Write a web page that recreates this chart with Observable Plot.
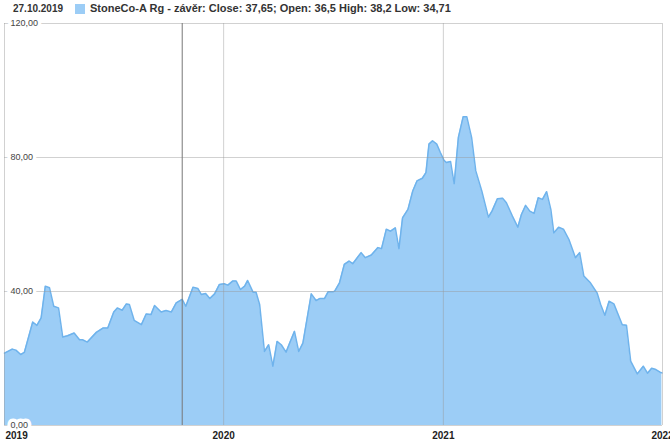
<!DOCTYPE html>
<html><head><meta charset="utf-8">
<script src="https://cdn.jsdelivr.net/npm/d3@7"></script>
<script src="https://cdn.jsdelivr.net/npm/@observablehq/plot@0.6"></script>
<style>
body{margin:0;background:#fff;font-family:Arial,"Liberation Sans",sans-serif;}
#legend{height:18px;position:relative;color:#333;}
#legend .date{position:absolute;left:13px;top:3px;font-size:10px;font-weight:bold;line-height:12px;}
#legend .sw{position:absolute;left:75px;top:4px;width:10px;height:10px;background:#9ccdf6;}
#legend .txt{position:absolute;left:90px;top:2px;font-size:11px;font-weight:bold;line-height:13px;}
</style></head><body>
<div id="legend"><span class="date">27.10.2019</span><span class="sw"></span><span class="txt">StoneCo-A Rg - závěr: Close: 37,65; Open: 36,5 High: 38,2 Low: 34,71</span></div>
<div id="chart"></div>
<script>
const dates = [
"2019-01-01","2019-01-14","2019-01-20","2019-01-28","2019-02-03","2019-02-17","2019-02-24","2019-03-03","2019-03-10","2019-03-17",
"2019-03-24","2019-04-01","2019-04-08","2019-04-16","2019-04-27","2019-05-06","2019-05-11","2019-05-19","2019-06-03","2019-06-14",
"2019-06-22","2019-07-02","2019-07-08","2019-07-16","2019-07-23","2019-07-28","2019-08-05","2019-08-17","2019-08-25","2019-09-02",
"2019-09-08","2019-09-19","2019-09-27","2019-10-06","2019-10-14","2019-10-24","2019-10-30","2019-11-11","2019-11-19","2019-11-25",
"2019-12-02","2019-12-09","2019-12-17","2019-12-25","2020-01-02","2020-01-08","2020-01-16","2020-01-22","2020-01-29","2020-02-05",
"2020-02-10","2020-02-19","2020-02-24","2020-03-01","2020-03-09","2020-03-16","2020-03-23","2020-03-30","2020-04-06","2020-04-14",
"2020-04-20","2020-04-28","2020-05-05","2020-05-12","2020-05-26","2020-06-03","2020-06-09","2020-06-17","2020-06-23","2020-07-01",
"2020-07-04","2020-07-12","2020-07-20","2020-07-28","2020-08-03","2020-08-17","2020-08-24","2020-09-03","2020-09-14","2020-09-20",
"2020-09-28","2020-10-05","2020-10-13","2020-10-19","2020-10-25","2020-11-03","2020-11-11","2020-11-18","2020-11-27","2020-12-03",
"2020-12-08","2020-12-14","2020-12-21","2020-12-27","2021-01-02","2021-01-06","2021-01-13","2021-01-19","2021-01-26","2021-02-03",
"2021-02-09","2021-02-17","2021-02-24","2021-03-06","2021-03-17","2021-03-23","2021-04-01","2021-04-10","2021-04-16","2021-04-26",
"2021-05-05","2021-05-11","2021-05-18","2021-05-25","2021-06-01","2021-06-08","2021-06-15","2021-06-22","2021-06-29","2021-07-04",
"2021-07-12","2021-07-20","2021-07-29","2021-08-09","2021-08-16","2021-08-23","2021-09-03","2021-09-14","2021-09-20","2021-09-27",
"2021-10-04","2021-10-12","2021-10-26","2021-11-02","2021-11-09","2021-11-20","2021-11-30","2021-12-07","2021-12-14","2021-12-21",
"2021-12-28","2021-12-31"
];
const closes = [
21.6,22.8,22.5,21.2,21.8,30.9,29.9,32.1,41.6,41.1,
35.6,35.1,26.4,26.8,27.6,25.6,25.6,24.9,27.8,29.1,
29.1,33.9,35.1,34.4,36.3,36.1,31.4,30.1,33.3,33.1,
35.8,33.9,34.3,33.9,36.6,37.65,35.6,41.3,40.9,39.1,
39.4,37.9,39.3,42.1,42.3,41.9,43.1,43.1,40.6,41.6,
43.3,39.8,39.8,36.1,22.1,24.1,17.7,25.1,24.1,21.9,
24.6,28.1,22.1,24.6,39.3,37.3,37.9,37.9,39.9,39.9,
40.1,42.6,48.1,49.1,48.3,51.6,50.1,50.9,53.1,52.8,
58.6,58.0,59.0,52.8,62.0,64.5,70.0,73.0,73.8,75.5,
84.0,85.0,84.0,81.5,79.2,78.5,78.8,72.2,86.0,92.2,
92.2,86.0,76.0,70.0,62.2,64.0,67.7,67.8,66.5,62.5,
59.2,63.0,65.7,64.0,63.3,68.0,67.5,69.8,64.5,57.5,
59.2,58.6,55.6,50.1,51.6,44.6,42.6,39.6,36.1,32.9,
37.1,36.3,30.1,29.9,19.2,15.4,17.7,15.6,17.1,16.7,
15.9,15.7
];
const yTicks = [0, 40, 80, 120];
const yearDates = ["2019-01-01", "2020-01-01", "2021-01-01", "2022-01-01"];
const yearLabels = ["2019", "2020", "2021", "2022"];
const crosshairDate = "2019-10-24";

const parse = d3.utcParse("%Y-%m-%d");
const data = dates.map((d, i) => ({date: parse(d), close: closes[i]}));
const years = yearDates.map(parse);
const fmt = v => d3.format(".2f")(v).replace(".", ",");
const font = "Arial, 'Liberation Sans', sans-serif";

const chart = Plot.plot({
  width: 670,
  height: 427,
  marginTop: 5,
  marginBottom: 20,
  marginLeft: 4,
  marginRight: 8,
  style: {fontFamily: font, background: "white"},
  x: {type: "utc", domain: [years[0], years[3]], axis: null},
  y: {domain: [0, 120], axis: null},
  marks: [
    Plot.areaY(data, {x: "date", y: "close", fill: "#9ccdf6"}),
    Plot.lineY(data, {x: "date", y: "close", stroke: "#6fb3ec", strokeWidth: 1.5}),
    Plot.ruleX(years, {stroke: "#999", strokeOpacity: 0.45}),
    Plot.ruleY(yTicks, {stroke: "#999", strokeOpacity: 0.45}),
    Plot.ruleX([parse(crosshairDate)], {stroke: "#777", strokeWidth: 1}),
    Plot.text(yTicks, {
      y: d => d, frameAnchor: "left", dx: 6, text: d => fmt(d),
      textAnchor: "start", fill: "#444", stroke: "white", strokeWidth: 7, fontSize: 9
    }),
    Plot.text([0], {
      x: () => years[0], frameAnchor: "bottom", dy: 13, dx: 1, text: () => yearLabels[0],
      textAnchor: "start", fontWeight: "bold", fontSize: 10, fill: "#222"
    }),
    Plot.text([1, 2, 3], {
      x: i => years[i], frameAnchor: "bottom", dy: 13, text: i => yearLabels[i],
      textAnchor: "middle", fontWeight: "bold", fontSize: 10, fill: "#222"
    })
  ]
});
document.getElementById("chart").appendChild(chart);
</script>
</body></html>
